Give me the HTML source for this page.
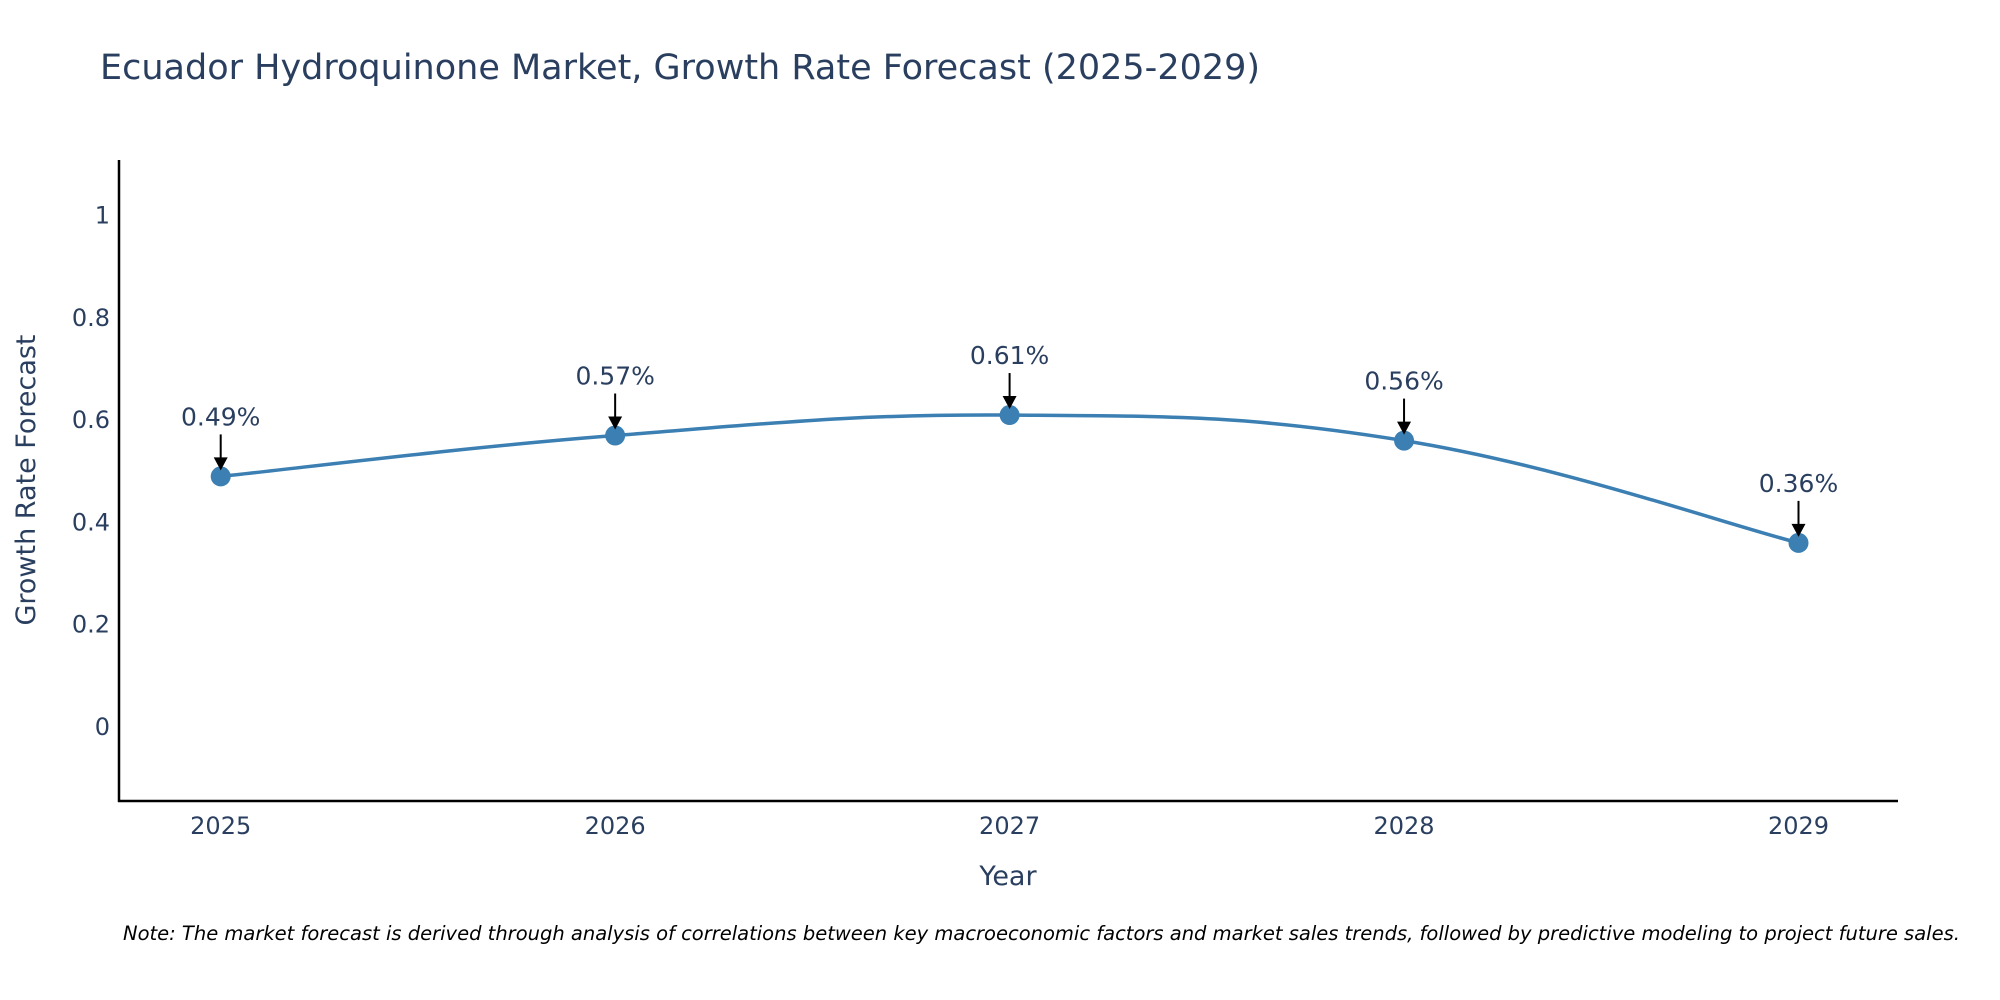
<!DOCTYPE html>
<html><head><meta charset="utf-8"><style>
body{margin:0;background:#fff;overflow:hidden;}
svg{display:block;font-family:"DejaVu Sans","Liberation Sans",sans-serif;}
</style></head><body>
<svg id="chart" width="2000" height="1000" viewBox="0 0 2000 1000">
<text x="100" y="79" font-size="35" fill="#2a3f5f">Ecuador Hydroquinone Market, Growth Rate Forecast (2025-2029)</text>
<g id="yticks"></g><g id="xticks"></g>
<line x1="119" y1="160" x2="119" y2="802" stroke="#000" stroke-width="2.5"/>
<line x1="118" y1="801" x2="1898" y2="801" stroke="#000" stroke-width="2.5"/>
<g id="series"></g>
<text x="1008" y="885" font-size="27" fill="#2a3f5f" text-anchor="middle">Year</text>
<text transform="translate(35,480) rotate(-90)" font-size="27" fill="#2a3f5f" text-anchor="middle">Growth Rate Forecast</text>
<text x="123" y="940" font-size="19.5" font-style="italic" fill="#000">Note: The market forecast is derived through analysis of correlations between key macroeconomic factors and market sales trends, followed by predictive modeling to project future sales.</text>
</svg>
<script>
const years = [2025, 2026, 2027, 2028, 2029];
const growth = [0.49, 0.57, 0.61, 0.56, 0.36];
const labels = ["0.49%", "0.57%", "0.61%", "0.56%", "0.36%"];
const yTicks = [0, 0.2, 0.4, 0.6, 0.8, 1];
const yTickLabels = ["0", "0.2", "0.4", "0.6", "0.8", "1"];

const NS = "http://www.w3.org/2000/svg";
const xScale = v => 220.7 + (v - 2025) * (1798.5 - 220.7) / 4;
const yScale = v => 727 - v * (727 - 215.6);
function mk(tag, attrs, parent){const e=document.createElementNS(NS,tag);for(const k in attrs)e.setAttribute(k,attrs[k]);parent.appendChild(e);return e;}

const yt = document.getElementById('yticks');
yTicks.forEach((t,i)=>{
  const e = mk('text',{x:110,y:yScale(t)+8,'font-size':24,fill:'#2a3f5f','text-anchor':'end'},yt);
  
  
  e.textContent = yTickLabels[i];
});
const xt = document.getElementById('xticks');
years.forEach(y=>{
  const e = mk('text',{x:xScale(y),y:834,'font-size':24,fill:'#2a3f5f','text-anchor':'middle'},xt);
  
  
  e.textContent = String(y);
});

const g = document.getElementById('series');
const pts = years.map((y,i)=>[xScale(y), yScale(growth[i])]);
let d = `M${pts[0][0]},${pts[0][1]}`;
const s = 0.2;
for(let i=0;i<pts.length-1;i++){
  const p0=pts[Math.max(i-1,0)],p1=pts[i],p2=pts[i+1],p3=pts[Math.min(i+2,pts.length-1)];
  const c1=[p1[0]+(p2[0]-p0[0])*s, p1[1]+(p2[1]-p0[1])*s];
  const c2=[p2[0]-(p3[0]-p1[0])*s, p2[1]-(p3[1]-p1[1])*s];
  d+=` C${c1[0]},${c1[1]} ${c2[0]},${c2[1]} ${p2[0]},${p2[1]}`;
}
const line = mk('path',{d:d,fill:'none',stroke:'#3b7fb3','stroke-width':3.5},g);



pts.forEach((p,i)=>{
  const c = mk('circle',{cx:p[0],cy:p[1],r:10,fill:'#3b7fb3'},g);
  
  
  const a = mk('line',{x1:p[0],y1:p[1]-42,x2:p[0],y2:p[1]-18,stroke:'#000','stroke-width':2},g);
  
  
  const h = mk('polygon',{points:`${p[0]-7},${p[1]-19} ${p[0]+7},${p[1]-19} ${p[0]},${p[1]-6}`,fill:'#000'},g);
  
  
  const t = mk('text',{x:p[0],y:p[1]-51,'font-size':25,fill:'#2a3f5f','text-anchor':'middle'},g);
  
  
  t.textContent = labels[i];
});
</script>
</body></html>
